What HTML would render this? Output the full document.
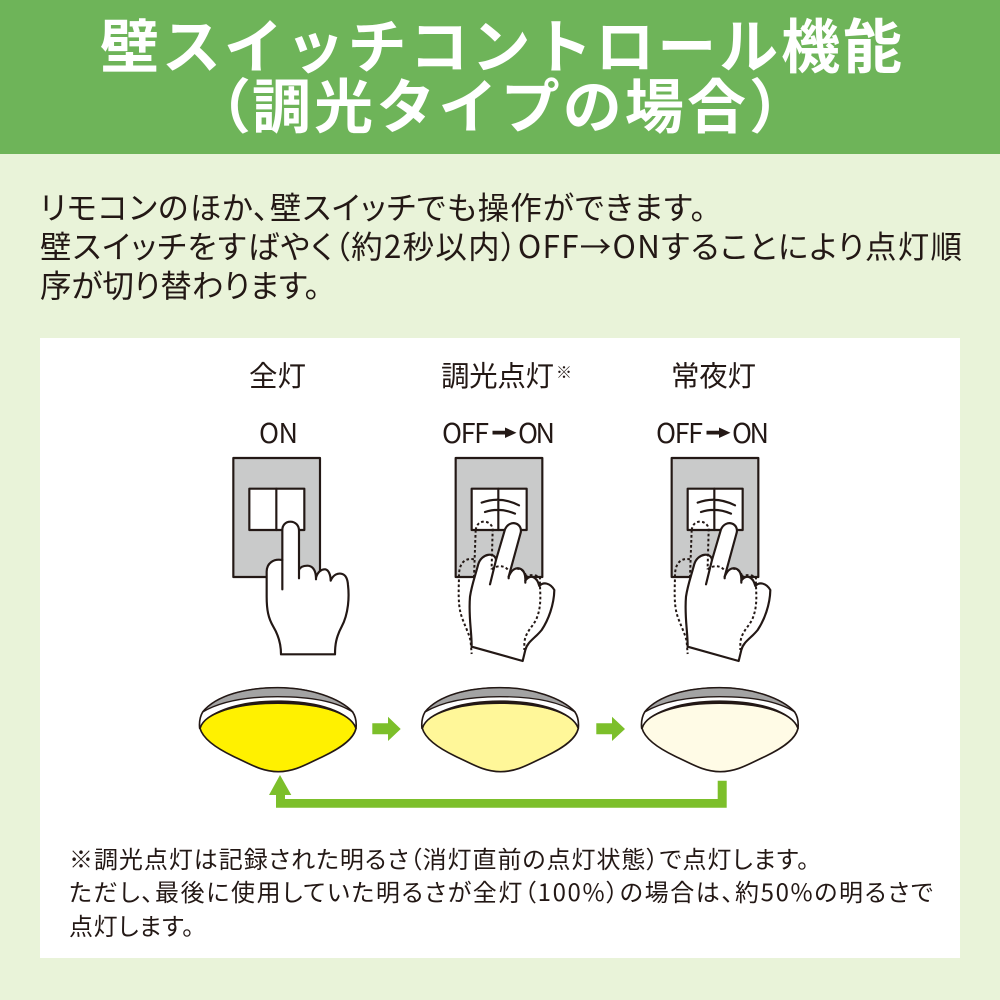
<!DOCTYPE html>
<html><head><meta charset="utf-8"><style>
html,body{margin:0;padding:0;background:#e9f3d9}
svg{display:block}
text{font-family:"Noto Sans CJK JP","Liberation Sans",sans-serif;fill:#231815}
.p{font-feature-settings:"palt"}
.w{fill:#fff;font-weight:700}
</style></head><body>
<svg width="1000" height="1000" viewBox="0 0 1000 1000" xmlns="http://www.w3.org/2000/svg">
<rect width="1000" height="1000" fill="#e9f3d9"/>
<rect width="1000" height="154" fill="#6eb459"/>
<g font-size="59">
<text class="w" x="100" y="68" textLength="802">壁スイッチコントロール機能</text>
<text class="w" x="192" y="128">（</text>
<text class="w" x="252" y="128" textLength="494">調光タイプの場合</text>
<text class="w" x="749" y="128">）</text>
</g>
<g font-size="31.5">
<text class="p" x="40" y="219" textLength="666">リモコンのほか、壁スイッチでも操作ができます。</text>
<text class="p" x="40" y="258" textLength="922">壁スイッチをすばやく（約2秒以内）OFF→ONすることにより点灯順</text>
<text class="p" x="40" y="297" textLength="280">序が切り替わります。</text>
</g>
<rect x="40" y="338" width="920" height="620" fill="#fff"/>

<g font-size="28.500">
<text x="249" y="386" textLength="57">全灯</text>
<text x="441" y="386" textLength="113">調光点灯</text>
<text x="556" y="378" font-size="16">※</text>
<text x="671" y="386" textLength="85">常夜灯</text>
</g>
<g font-size="27">
<text x="259" y="443" textLength="39">ON</text>
<text x="442" y="443" textLength="47">OFF</text>
<text x="518" y="443" textLength="37">ON</text>
<text x="656" y="443" textLength="47">OFF</text>
<text x="732" y="443" textLength="37">ON</text>
</g>
<g fill="#231815">
<path d="M492.500 430.800H505V427.500L516.500 432.700L505 438V434.500H492.500Z"/>
<path d="M706.500 430.800H719V427.500L730.500 432.700L719 438V434.500H706.500Z"/>
</g>

<!-- switch + hand 1 -->
<g transform="translate(220,450) scale(.33333)" stroke="#231815" stroke-width="6.500" fill="none" stroke-linejoin="round" stroke-linecap="round">
<rect x="40" y="24" width="260" height="357" fill="#c9caca"/>
<rect x="88" y="116" width="165" height="124" fill="#fff"/>
<path d="M169 116V240"/>
<path d="M187 330V240C187 225 197 215 211 215C226 215 237 226 237 242V360C241 350 252 347 262 347C276 347 287 358 288 383C293 365 305 357 316 358C326 360 332 375 332 392C340 373 355 368 367 372C379 376 383 390 384 405C388 440 386 490 365 530C348 562 345 585 345 613H183C183 585 175 555 160 530C145 505 140 480 140 440V365C140 340 160 325 187 330Z" fill="#fff"/>
<path d="M187 330V418M237 360V385M288 383V388"/>
</g>

<g transform="translate(220,450) scale(.33333)" stroke="#231815" stroke-width="6.500" fill="none" stroke-linejoin="round" stroke-linecap="round">
<rect x="707" y="24" width="260" height="357" fill="#c9caca"/>
<rect x="755" y="116" width="165" height="124" fill="#fff"/>
<path d="M835 116V240M785 158Q840 137 897 166M795 186Q840 171 885 191"/>
<path d="M755 590C755 540 745 500 750 440C755 405 765 380 775 342C785 310 825 305 828 330L855 238C870 205 912 220 901 252L866 380C875 358 888 352 900 356C912 360 917 375 916 392C930 372 950 378 958 408C970 395 990 398 1003 420C1002 465 985 510 965 540C945 565 922 575 916 600L908 633Z" fill="#fff"/>
<path d="M828 330L810 403M866 380V385M916 392V398"/>
<g stroke-dasharray="8 7" stroke-linecap="butt" stroke-width="6">
<path d="M767 240C770 222 780 215 792 215C806 215 818 225 818 240L815 350L814 358"/>
<path d="M767 240L762 380"/>
<path d="M762 328C735 322 716 340 717 380C716 420 714 460 722 490C730 520 748 550 752 575L755 612"/>
<path d="M815 358C830 345 855 345 866 362"/>
<path d="M890 356C905 356 915 365 918 378M915 380C930 372 950 375 960 382C958 420 968 460 950 505C940 530 915 545 913 580V600"/>
</g>
</g>
<g transform="translate(436,450) scale(.33333)" stroke="#231815" stroke-width="6.500" fill="none" stroke-linejoin="round" stroke-linecap="round">
<rect x="707" y="24" width="260" height="357" fill="#c9caca"/>
<rect x="755" y="116" width="165" height="124" fill="#fff"/>
<path d="M835 116V240M785 158Q840 137 897 166M795 186Q840 171 885 191"/>
<path d="M755 590C755 540 745 500 750 440C755 405 765 380 775 342C785 310 825 305 828 330L855 238C870 205 912 220 901 252L866 380C875 358 888 352 900 356C912 360 917 375 916 392C930 372 950 378 958 408C970 395 990 398 1003 420C1002 465 985 510 965 540C945 565 922 575 916 600L908 633Z" fill="#fff"/>
<path d="M828 330L810 403M866 380V385M916 392V398"/>
<g stroke-dasharray="8 7" stroke-linecap="butt" stroke-width="6">
<path d="M767 240C770 222 780 215 792 215C806 215 818 225 818 240L815 350L814 358"/>
<path d="M767 240L762 380"/>
<path d="M762 328C735 322 716 340 717 380C716 420 714 460 722 490C730 520 748 550 752 575L755 612"/>
<path d="M815 358C830 345 855 345 866 362"/>
<path d="M890 356C905 356 915 365 918 378M915 380C930 372 950 375 960 382C958 420 968 460 950 505C940 530 915 545 913 580V600"/>
</g>
</g>

<!-- lamps -->
<g transform="translate(190,670) scale(.33333)" stroke="#231815" stroke-linejoin="round">
<path d="M29 175C27 155 31 138 38 126C80 75 170 53 263 53C360 53 450 85 488 126C496 138 500 155 498 175Z" fill="#fff" stroke-width="5"/>
<path d="M38 126C80 75 170 53 263 53C360 53 450 85 488 126C440 95 360 80 263 80C170 80 90 95 38 126Z" fill="#a3a3a3" stroke-width="4"/>
<path d="M30 175C40 210 90 240 130 259C180 282 215 305 265 305C315 305 350 282 400 259C440 240 490 212 498 175C480 125 380 98 263 98C150 98 45 125 30 175Z" fill="#fff100" stroke-width="5"/>
<path d="M30 168C60 120 150 91 263 91C380 91 470 120 498 168C465 125 380 102 263 102C150 102 65 125 30 168Z" fill="#231815" stroke="none"/>
</g>
<g transform="translate(412.300,670) scale(.33333)" stroke="#231815" stroke-linejoin="round">
<path d="M29 175C27 155 31 138 38 126C80 75 170 53 263 53C360 53 450 85 488 126C496 138 500 155 498 175Z" fill="#fff" stroke-width="5"/>
<path d="M38 126C80 75 170 53 263 53C360 53 450 85 488 126C440 95 360 80 263 80C170 80 90 95 38 126Z" fill="#a3a3a3" stroke-width="4"/>
<path d="M30 175C40 210 90 240 130 259C180 282 215 305 265 305C315 305 350 282 400 259C440 240 490 212 498 175C480 125 380 98 263 98C150 98 45 125 30 175Z" fill="#fff799" stroke-width="5"/>
<path d="M30 168C60 120 150 91 263 91C380 91 470 120 498 168C465 125 380 102 263 102C150 102 65 125 30 168Z" fill="#231815" stroke="none"/>
</g>
<g transform="translate(632,670) scale(.33333)" stroke="#231815" stroke-linejoin="round">
<path d="M29 175C27 155 31 138 38 126C80 75 170 53 263 53C360 53 450 85 488 126C496 138 500 155 498 175Z" fill="#fff" stroke-width="5"/>
<path d="M38 126C80 75 170 53 263 53C360 53 450 85 488 126C440 95 360 80 263 80C170 80 90 95 38 126Z" fill="#a3a3a3" stroke-width="4"/>
<path d="M30 175C40 210 90 240 130 259C180 282 215 305 265 305C315 305 350 282 400 259C440 240 490 212 498 175C480 125 380 98 263 98C150 98 45 125 30 175Z" fill="#fffbe6" stroke-width="5"/>
<path d="M30 168C60 120 150 91 263 91C380 91 470 120 498 168C465 125 380 102 263 102C150 102 65 125 30 168Z" fill="#231815" stroke="none"/>
</g>

<!-- green arrows -->
<g fill="#7cbf2a">
<path d="M372.300 723.300H388V716.700L400.700 729L388 741V734.300H372.300Z"/>
<path d="M596.300 723.300H612V716.700L625 729L612 741V734.300H596.300Z"/>
<path d="M280 775L291.300 795H285V799H717.700V780.700H726.700V807.700H276V795H269Z"/>
</g>

<g font-size="24">
<text class="p" x="69" y="868" textLength="740">※調光点灯は記録された明るさ（消灯直前の点灯状態）で点灯します。</text>
<text class="p" x="69" y="901" textLength="864">ただし、最後に使用していた明るさが全灯（100%）の場合は、約50%の明るさで</text>
<text class="p" x="69" y="935" textLength="125">点灯します。</text>
</g>
</svg>
</body></html>
